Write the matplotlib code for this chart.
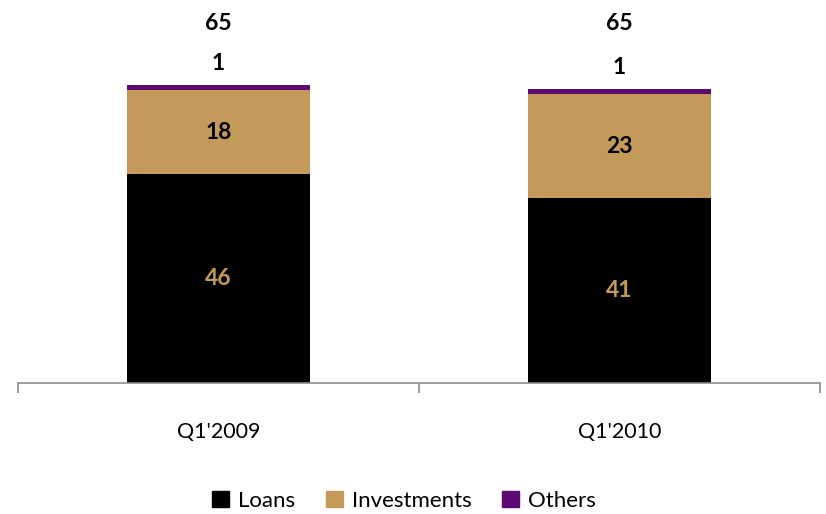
import matplotlib
matplotlib.use("Agg")
import matplotlib.pyplot as plt
from matplotlib.patches import Patch

categories = ["Q1'2009", "Q1'2010"]
loans = [46.1, 40.8]
investments = [18.5, 23.0]
others = [1.1, 1.1]
loan_labels = ["46", "41"]
inv_labels = ["18", "23"]
oth_labels = ["1", "1"]
totals = ["65", "65"]

c_loans = "#000000"
c_inv = "#C49A5A"
c_oth = "#5B0A72"

plt.rcParams['font.family'] = ['Lato', 'DejaVu Sans']

fig = plt.figure(figsize=(8.26, 5.14), dpi=100)
ax = fig.add_axes([18/826, 1-383/514, 802/826, 383/514])

x = list(range(len(categories)))
w = 0.456
ax.bar(x, loans, width=w, color=c_loans)
ax.bar(x, investments, width=w, bottom=loans, color=c_inv)
bot2 = [a + b for a, b in zip(loans, investments)]
ax.bar(x, others, width=w, bottom=bot2, color=c_oth)

fs = 16.5
for i in x:
    ax.text(i, loans[i] / 2, loan_labels[i], ha='center', va='center',
            fontsize=fs, fontweight='bold', color=c_inv)
    ax.text(i, loans[i] + investments[i] / 2, inv_labels[i], ha='center', va='center',
            fontsize=fs, fontweight='bold', color='black')
    top = bot2[i] + others[i]
    ax.annotate(oth_labels[i], (i, top), xytext=(0, 8), textcoords='offset points',
                ha='center', va='bottom', fontsize=fs, fontweight='bold')
    ax.text(i, 1 - 23 / 383, totals[i], transform=ax.get_xaxis_transform(),
            ha='center', va='center', fontsize=fs, fontweight='bold')

ax.set_xlim(-0.5, 1.5)
ax.set_ylim(0, 383 / 4.53)
for s in ['top', 'right', 'left']:
    ax.spines[s].set_visible(False)
ax.spines['bottom'].set_color('#8c8c8c')
ax.spines['bottom'].set_linewidth(1.2)
ax.set_yticks([])
ax.set_xticks(x)
ax.set_xticklabels(categories, fontsize=15.5)
ax.tick_params(axis='x', which='major', length=0, pad=28)
ax.set_xticks([-0.5, 0.5, 1.5], minor=True)
ax.tick_params(axis='x', which='minor', length=7, width=1.2, color='#8c8c8c', direction='out')

handles = [Patch(color=c_loans, label='Loans'), Patch(color=c_inv, label='Investments'),
           Patch(color=c_oth, label='Others')]
fig.legend(handles=handles, loc='center', bbox_to_anchor=(404/826, 1-501/514), ncol=3,
           frameon=False, fontsize=16, handlelength=0.75, handleheight=0.75,
           handletextpad=0.4, columnspacing=1.4)

fig.savefig("out.png", dpi=100)
